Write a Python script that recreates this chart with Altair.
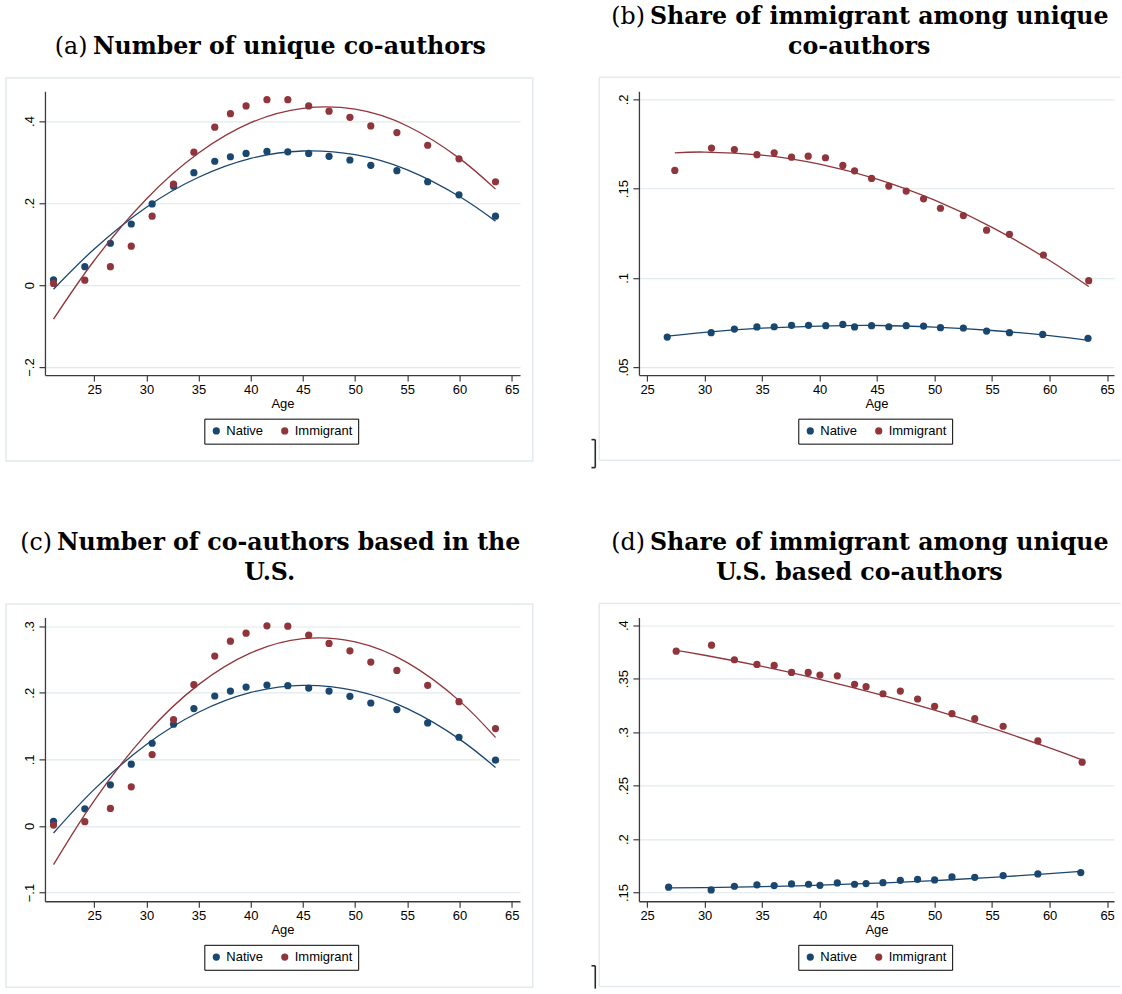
import altair as alt
import pandas as pd

NAVY = "#1a476f"
MAROON = "#90353b"
GRID = "#e0e9ec"
FRAME = "#e2eaed"
AXIS = "#3c3c3c"
SERIF = "DejaVu Serif"
SANS = "Liberation Sans"
TSIZE = 23.7

GROUPS = ["Native", "Immigrant"]
AGE_TICKS = [25, 30, 35, 40, 45, 50, 55, 60, 65]

# (a) Number of unique co-authors
a_age = [21.1, 24.1, 26.55, 28.55, 30.55, 32.6, 34.55, 36.55, 38.05, 39.55,
         41.55, 43.55, 45.55, 47.5, 49.5, 51.5, 54.0, 56.95, 59.95, 63.45]
a_native = [0.013, 0.045, 0.102, 0.149, 0.198, 0.241, 0.274, 0.302, 0.313, 0.321,
            0.326, 0.325, 0.321, 0.314, 0.305, 0.292, 0.279, 0.252, 0.220, 0.168]
a_immig = [0.004, 0.012, 0.045, 0.095, 0.168, 0.246, 0.324, 0.385, 0.418, 0.437,
           0.452, 0.452, 0.437, 0.424, 0.409, 0.388, 0.372, 0.341, 0.308, 0.252]
a_fit_age = [21.1, 25, 30, 35, 40, 45, 50, 55, 60, 63.45]
a_native_fit = [-0.010, 0.088, 0.190, 0.263, 0.309, 0.327, 0.318, 0.281, 0.216, 0.156]
a_immig_fit = [-0.083, 0.060, 0.210, 0.322, 0.396, 0.431, 0.429, 0.388, 0.309, 0.234]

# (b) Share of immigrant among unique co-authors
b_native_age = [26.75, 30.57, 32.59, 34.55, 36.05, 37.56, 39.04, 40.54, 42.02, 43.04,
                44.52, 46.02, 47.53, 49.04, 50.51, 52.50, 54.52, 56.51, 59.40, 63.34]
b_native = [0.0668, 0.0693, 0.0713, 0.0725, 0.0726, 0.0734, 0.0734, 0.0732, 0.0739, 0.0725,
            0.0732, 0.0726, 0.0732, 0.0730, 0.0721, 0.0719, 0.0702, 0.0693, 0.0683, 0.0661]
b_immig_age = [27.41, 30.60, 32.59, 34.55, 36.05, 37.56, 39.01, 40.51, 42.02, 43.04,
               44.52, 46.02, 47.53, 49.04, 50.51, 52.50, 54.52, 56.51, 59.46, 63.40]
b_immig = [0.1602, 0.1727, 0.1719, 0.1690, 0.1701, 0.1676, 0.1682, 0.1673, 0.1630, 0.1600,
           0.1557, 0.1514, 0.1486, 0.1443, 0.1390, 0.1349, 0.1267, 0.1244, 0.1128, 0.0984]
b_native_fit_age = [26.75, 30, 35, 40, 45, 50, 55, 60, 63.34]
b_native_fit = [0.0674, 0.0695, 0.0718, 0.0730, 0.0733, 0.0724, 0.0705, 0.0676, 0.0650]
b_immig_fit_age = [27.41, 30, 35, 40, 45, 50, 55, 60, 63.40]
b_immig_fit = [0.1700, 0.1705, 0.1688, 0.1637, 0.1553, 0.1435, 0.1283, 0.1097, 0.0951]

# (c) Number of co-authors based in the U.S.
c_age = [21.1, 24.1, 26.55, 28.55, 30.55, 32.6, 34.55, 36.55, 38.05, 39.55,
         41.55, 43.55, 45.55, 47.5, 49.5, 51.5, 54.0, 56.95, 59.95, 63.45]
c_native = [0.0069, 0.0258, 0.0618, 0.0928, 0.1242, 0.1527, 0.1762, 0.1951, 0.2026, 0.2086,
            0.2116, 0.2106, 0.2071, 0.2026, 0.1946, 0.1846, 0.1747, 0.1547, 0.1332, 0.0988]
c_immig = [0.0014, 0.0064, 0.0263, 0.0588, 0.1072, 0.1597, 0.2121, 0.2551, 0.2775, 0.2895,
           0.3005, 0.3000, 0.2865, 0.2740, 0.2630, 0.2461, 0.2336, 0.2111, 0.1866, 0.1462]
c_fit_age = [21.1, 25, 30, 35, 40, 45, 50, 55, 60, 63.45]
c_native_fit = [-0.0106, 0.0549, 0.1223, 0.1707, 0.2004, 0.2112, 0.2031, 0.1762, 0.1304, 0.0878]
c_immig_fit = [-0.058, 0.0382, 0.1383, 0.2122, 0.2598, 0.2812, 0.2763, 0.2452, 0.1878, 0.1329]

# (d) Share of immigrant among unique U.S. based co-authors
d_native_age = [26.87, 30.57, 32.59, 34.55, 36.05, 37.56, 39.04, 40.03, 41.54, 43.04,
                44.04, 45.51, 47.02, 48.52, 50.0, 51.51, 53.49, 55.96, 58.98, 62.71]
d_native = [0.1550, 0.1525, 0.1559, 0.1572, 0.1565, 0.1581, 0.1578, 0.1568, 0.1590, 0.1578,
            0.1584, 0.1593, 0.1615, 0.1624, 0.1618, 0.1646, 0.1643, 0.1659, 0.1674, 0.1687]
d_immig_age = [27.53, 30.60, 32.59, 34.55, 36.05, 37.56, 39.01, 40.03, 41.54, 43.04,
               44.04, 45.51, 47.02, 48.52, 50.0, 51.51, 53.49, 55.96, 58.98, 62.83]
d_immig = [0.3757, 0.3813, 0.3677, 0.3633, 0.3624, 0.3558, 0.3558, 0.3534, 0.3527, 0.3447,
           0.3425, 0.3359, 0.3384, 0.3310, 0.3241, 0.3173, 0.3126, 0.3055, 0.2918, 0.2719]
d_native_fit_age = [26.87, 30, 35, 40, 45, 50, 55, 60, 62.71]
d_native_fit = [0.1544, 0.1547, 0.1555, 0.1569, 0.1588, 0.1612, 0.1642, 0.1677, 0.1699]
d_immig_fit_age = [27.53, 30, 35, 40, 45, 50, 55, 60, 62.83]
d_immig_fit = [0.3764, 0.3719, 0.3615, 0.3494, 0.3358, 0.3206, 0.3037, 0.2853, 0.2741]

W, H = 475.5, 284
STATA_LABEL = "replace(replace(format(datum.value, '.2~f'), '-0.', '-.'), '0.', '.')"


def series(ages_n, vals_n, ages_i, vals_i):
    return pd.DataFrame({
        "age": list(ages_n) + list(ages_i),
        "value": list(vals_n) + list(vals_i),
        "group": ["Native"] * len(ages_n) + ["Immigrant"] * len(ages_i),
    })


def one():
    return pd.DataFrame({"k": [0]})


def text(txt, x, y, weight="bold", align="left"):
    return alt.Chart(one()).mark_text(
        text=txt, font=SERIF, fontSize=TSIZE, fontWeight=weight,
        align=align, baseline="alphabetic", color="black",
    ).encode(x=alt.value(x), y=alt.value(y))


def rule(x1, x2, y1, y2, color=FRAME, width=1.5):
    return alt.Chart(one()).mark_rule(color=color, strokeWidth=width).encode(
        x=alt.value(x1), x2=alt.value(x2), y=alt.value(y1), y2=alt.value(y2))


def box():
    return alt.Chart(one()).mark_rect(
        fillOpacity=0, stroke=FRAME, strokeWidth=1.5
    ).encode(x=alt.value(-39), x2=alt.value(488.3), y=alt.value(-13.4), y2=alt.value(370))


def open_box():
    return [rule(-39.7, 482, -14, -14), rule(-39.7, -39.7, -14, 369.3),
            rule(-39.7, 482, 369.3, 369.3)]


def bracket(bottom=True):
    dark = "#2a2a2a"
    parts = [rule(-43.7, -43.7, 348.6, 376.6 if bottom else 371.5, dark, 1.6),
             rule(-47.5, -43.7, 348.6, 348.6, dark, 1.6)]
    if bottom:
        parts.append(rule(-47.5, -43.7, 376.6, 376.6, dark, 1.6))
    return parts


def panel(pts, fits, xdom, ydom, yticks, decor):
    cscale = alt.Scale(domain=GROUPS, range=[NAVY, MAROON])
    legend = alt.Legend(
        orient="none", legendX=159.5, legendY=327.6, direction="horizontal",
        title=None, strokeColor="black", fillColor="white", padding=5.5,
        labelFont=SANS, labelFontSize=13, labelColor="black",
        symbolSize=52, symbolType="circle", symbolStrokeWidth=0,
        labelOffset=3.5, columnPadding=14.5,
    )
    x = alt.X("age:Q", scale=alt.Scale(domain=xdom, nice=False, zero=False),
              axis=alt.Axis(values=AGE_TICKS, title="Age"))
    y = alt.Y("value:Q", scale=alt.Scale(domain=ydom, nice=False, zero=False),
              axis=alt.Axis(values=yticks, title=None, labelExpr=STATA_LABEL))
    points = alt.Chart(pts).mark_circle(size=52, opacity=1).encode(
        x=x, y=y, color=alt.Color("group:N", scale=cscale, legend=legend))
    lines = alt.Chart(fits).mark_line(strokeWidth=1.3, interpolate="natural").encode(
        x=x, y=y, stroke=alt.Stroke("group:N", scale=cscale, legend=None),
        detail="group:N")
    return alt.layer(*decor, points, lines).properties(width=W, height=H)


L1, L2 = -67.2, -37.2

page = alt.Chart(one()).mark_rect(opacity=0).encode(
    x=alt.value(-45), x2=alt.value(1076), y=alt.value(-90.7), y2=alt.value(899.3))

p_a = panel(
    series(a_age, a_native, a_age, a_immig),
    series(a_fit_age, a_native_fit, a_fit_age, a_immig_fit),
    [20.28, 65.8], [-0.2195, 0.4724], [-0.2, 0, 0.2, 0.4],
    [page, box(), text("(a)", 42.5, L2, "normal", "right"),
     text("Number of unique co-authors", 48, L2)],
)
p_b = panel(
    series(b_native_age, b_native, b_immig_age, b_immig),
    series(b_native_fit_age, b_native_fit, b_immig_fit_age, b_immig_fit),
    [24.29, 65.6], [0.0455, 0.2045], [0.05, 0.1, 0.15, 0.2],
    open_box() + bracket(True) + [
        text("(b)", 6, L1, "normal", "right"),
        text("Share of immigrant among unique", 11, L1),
        text("co-authors", 220.5, L2, "bold", "center")],
)
p_c = panel(
    series(c_age, c_native, c_age, c_immig),
    series(c_fit_age, c_native_fit, c_fit_age, c_immig_fit),
    [20.28, 65.8], [-0.113, 0.313], [-0.1, 0, 0.1, 0.2, 0.3],
    [box(), text("(c)", 7, L1, "normal", "right"),
     text("Number of co-authors based in the", 12, L1),
     text("U.S.", 225, L2, "bold", "center")],
)
p_d = panel(
    series(d_native_age, d_native, d_immig_age, d_immig),
    series(d_native_fit_age, d_native_fit, d_immig_fit_age, d_immig_fit),
    [24.29, 65.6], [0.1419, 0.4072], [0.15, 0.2, 0.25, 0.3, 0.35, 0.4],
    open_box() + bracket(False) + [
        text("(d)", 6, L1, "normal", "right"),
        text("Share of immigrant among unique", 11, L1),
        text("U.S. based co-authors", 220.5, L2, "bold", "center")],
)

chart = alt.concat(
    p_a, p_b, p_c, p_d, columns=2, bounds="flush",
    spacing=alt.RowColnumber(row=242.6, column=118.5),
).resolve_scale(
    color="independent", stroke="independent", x="independent", y="independent"
).resolve_legend(
    color="independent"
).properties(
    padding=0
).configure_view(
    strokeWidth=0
).configure_axis(
    labelFont=SANS, labelFontSize=13, labelColor="black",
    titleFont=SANS, titleFontSize=13, titleFontWeight="normal", titleColor="black",
    tickSize=6, tickColor=AXIS, tickWidth=1.2,
    domainColor=AXIS, domainWidth=1.3,
    gridColor=GRID, gridWidth=1.2,
).configure_axisY(
    grid=True, labelAngle=-90, labelAlign="center", labelBaseline="alphabetic",
    labelPadding=5,
).configure_axisX(
    grid=False, labelPadding=2, titlePadding=1,
)

chart.save("out.html", embed_options={"renderer": "svg", "actions": False})
